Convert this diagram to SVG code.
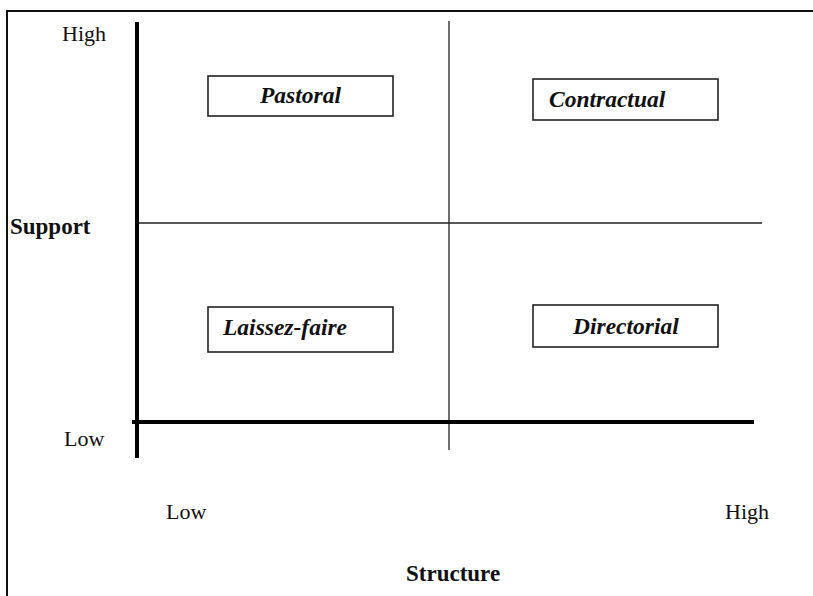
<svg xmlns="http://www.w3.org/2000/svg" width="813" height="596" viewBox="0 0 813 596">
<style>
.t{font-family:"Liberation Serif","Times New Roman",serif;font-size:22px;fill:#111}
.b{font-weight:bold;font-size:23px}
.bi{font-weight:bold;font-style:italic;font-size:23.5px}
.box{fill:#fff;stroke:#222;stroke-width:1.6}
.thin{stroke:#222;stroke-width:1.3;fill:none}
.thick{stroke:#000;stroke-width:4;fill:none}
</style>
<rect width="813" height="596" fill="#fff"/>
<path d="M7 596 V11 H813" fill="none" stroke="#111" stroke-width="2"/>
<g id="connectors">
<line class="thin" x1="449" y1="21" x2="449" y2="450"/>
<line class="thin" x1="139" y1="223" x2="762" y2="223"/>
<line class="thick" x1="137" y1="22" x2="137" y2="458"/>
<line class="thick" x1="132" y1="422" x2="754" y2="422"/>
</g>
<g id="pastoral"><rect class="box" x="208" y="76" width="185" height="40"/><text class="t bi" x="260" y="103">Pastoral</text></g>
<g id="contractual"><rect class="box" x="533" y="79" width="185" height="41"/><text class="t bi" x="549" y="107">Contractual</text></g>
<g id="laissez-faire"><rect class="box" x="208" y="307" width="185" height="45"/><text class="t bi" x="223" y="335">Laissez-faire</text></g>
<g id="directorial"><rect class="box" x="533" y="305" width="185" height="42"/><text class="t bi" x="573" y="334">Directorial</text></g>
<g id="labels">
<text class="t" x="62" y="41">High</text>
<text class="t b" x="10" y="234">Support</text>
<text class="t" x="64" y="446">Low</text>
<text class="t" x="166" y="519">Low</text>
<text class="t" x="725" y="519">High</text>
<text class="t b" x="406" y="581">Structure</text>
</g>
</svg>
